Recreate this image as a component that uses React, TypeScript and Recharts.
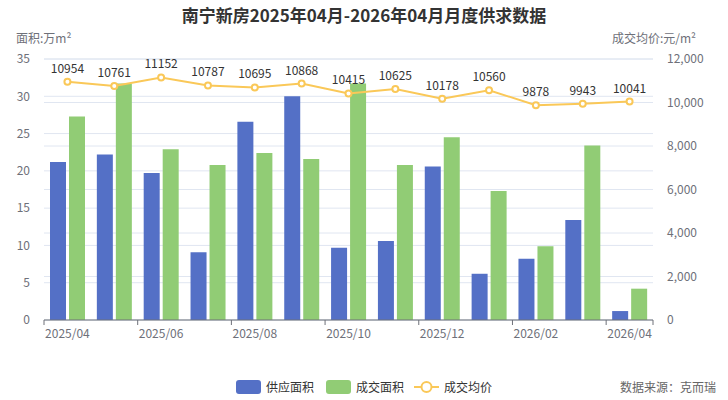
import { ComposedChart, Bar, Line, XAxis, YAxis, CartesianGrid, LabelList } from "recharts";

const months = [
  "2025/04", "2025/05", "2025/06", "2025/07", "2025/08", "2025/09", "2025/10",
  "2025/11", "2025/12", "2026/01", "2026/02", "2026/03", "2026/04",
];
const supplyArea = [21.2, 22.2, 19.7, 9.1, 26.6, 30.0, 9.7, 10.6, 20.6, 6.2, 8.2, 13.4, 1.2];
const dealArea = [27.3, 31.7, 22.9, 20.8, 22.4, 21.6, 31.7, 20.8, 24.5, 17.3, 9.9, 23.4, 4.2];
const avgPrice = [10954, 10761, 11152, 10787, 10695, 10868, 10415, 10625, 10178, 10560, 9878, 9943, 10041];
const leftTicks = [0, 5, 10, 15, 20, 25, 30, 35];
const rightTicks = [0, 2000, 4000, 6000, 8000, 10000, 12000];

const data = months.map((m, i) => ({
  month: m,
  supply: supplyArea[i],
  deal: dealArea[i],
  price: avgPrice[i],
}));

const BLUE = "#5470c6";
const GREEN = "#91cc75";
const YELLOW = "#fac858";
const AXIS = "#6e7079";
const FONT = "'Noto Sans CJK SC', 'Noto Sans', sans-serif";

// plot spans x 44..653, so one category is ~46.85px wide
const BAND = (653 - 44) / months.length;

const MonthTick = (props: any) => {
  const { x, y, payload, index } = props;
  const i = payload?.index ?? index;
  if (i % 2 !== 0) return null;
  const left = x - BAND / 2;
  return (
    <g>
      <line x1={left} x2={left} y1={y - 8} y2={y - 3} stroke={AXIS} />
      {i === months.length - 1 && (
        <line x1={x + BAND / 2} x2={x + BAND / 2} y1={y - 8} y2={y - 3} stroke={AXIS} />
      )}
      <text x={x} y={y + 10} textAnchor="middle" fontSize={12} fill={AXIS} fontFamily={FONT}>
        {payload.value}
      </text>
    </g>
  );
};

const App = () => {
  return (
    <div style={{ position: "fixed", left: 0, top: 0, width: 728, height: 400, background: "#fff", fontFamily: FONT }}>
      <div style={{ position: "absolute", top: 2, width: 728, textAlign: "center", fontSize: 17, fontWeight: "bold", color: "#333" }}>
        南宁新房2025年04月-2026年04月月度供求数据
      </div>
      <div style={{ position: "absolute", left: 16, top: 29, fontSize: 12, color: AXIS }}>面积:万m²</div>
      <div style={{ position: "absolute", right: 32, top: 29, fontSize: 12, color: AXIS }}>成交均价:元/m²</div>

      <ComposedChart
        width={728}
        height={400}
        data={data}
        margin={{ top: 59, right: 15, bottom: 50, left: 8 }}
        barGap={3}
      >
        <CartesianGrid yAxisId="left" vertical={false} stroke="#e0e6f1" />
        <CartesianGrid yAxisId="right" vertical={false} stroke="#e0e6f1" />
        <XAxis
          dataKey="month"
          interval={0}
          tickLine={false}
          axisLine={{ stroke: AXIS }}
          tick={<MonthTick />}
          height={30}
        />
        <YAxis
          yAxisId="left"
          domain={[0, 35]}
          ticks={leftTicks}
          width={36}
          axisLine={false}
          tickLine={false}
          tickMargin={8}
          tick={{ fontSize: 12, fill: AXIS, fontFamily: FONT }}
        />
        <YAxis
          yAxisId="right"
          orientation="right"
          domain={[0, 12000]}
          ticks={rightTicks}
          width={60}
          axisLine={false}
          tickLine={false}
          tickMargin={8}
          tickFormatter={(v: number) => v.toLocaleString("en-US")}
          tick={{ fontSize: 12, fill: AXIS, fontFamily: FONT, textAnchor: "start" }}
        />
        <Bar yAxisId="left" dataKey="supply" name="供应面积" fill={BLUE} barSize={16} isAnimationActive={false} />
        <Bar yAxisId="left" dataKey="deal" name="成交面积" fill={GREEN} barSize={16} isAnimationActive={false} />
        <Line
          yAxisId="right"
          dataKey="price"
          name="成交均价"
          stroke={YELLOW}
          strokeWidth={2}
          dot={{ r: 3, fill: "#fff", stroke: YELLOW, strokeWidth: 2 }}
          isAnimationActive={false}
        >
          <LabelList dataKey="price" position="top" offset={9} fontSize={12} fill="#333" fontFamily={FONT} />
        </Line>
      </ComposedChart>

      <div style={{ position: "absolute", left: 236, top: 378, display: "flex", alignItems: "center", fontSize: 12, color: "#333" }}>
        <span style={{ width: 25, height: 14, borderRadius: 3, background: BLUE, display: "inline-block", marginRight: 5 }} />
        <span style={{ marginRight: 12 }}>供应面积</span>
        <span style={{ width: 25, height: 14, borderRadius: 3, background: GREEN, display: "inline-block", marginRight: 5 }} />
        <span style={{ marginRight: 10 }}>成交面积</span>
        <svg width={25} height={14} style={{ marginRight: 5 }}>
          <line x1={0} x2={25} y1={7} y2={7} stroke={YELLOW} strokeWidth={2} />
          <circle cx={12.5} cy={7} r={5} fill="#fff" stroke={YELLOW} strokeWidth={2} />
        </svg>
        <span>成交均价</span>
      </div>
      <div style={{ position: "absolute", right: 12, top: 378, fontSize: 12, color: "#666" }}>数据来源：克而瑞</div>
    </div>
  );
};

export default App;
